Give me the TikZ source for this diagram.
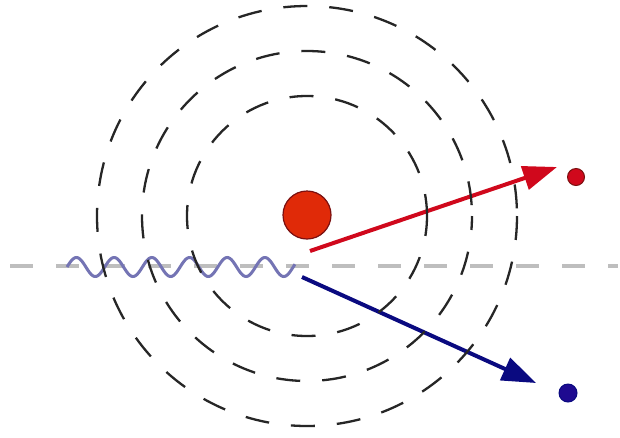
\documentclass[tikz,border=0pt]{standalone}
\usetikzlibrary{arrows.meta}
\definecolor{nucred}{HTML}{E02A08}
\definecolor{nucedge}{HTML}{7A1010}
\definecolor{arrred}{HTML}{D0081C}
\definecolor{arrblue}{HTML}{0A0A80}
\definecolor{dotblue}{HTML}{1E0A90}
\definecolor{wavecol}{HTML}{7474B4}
\definecolor{axisgray}{HTML}{BEBEBE}
\tikzset{
  shell/.style={draw=black!85, line width=2.3pt, dash pattern=on 24pt off 22pt},
  axisline/.style={draw=axisgray, line width=3.5pt, dash pattern=on 23pt off 23pt},
  wave/.style={draw=wavecol, line width=3pt},
  ray/.style={line width=4pt},
}
\begin{document}
\begin{tikzpicture}[x=1pt,y=-1pt]
\useasboundingbox (0,0) rectangle (620,437);
\fill[white] (0,0) rectangle (620,437);
% axis line
\coordinate (axL) at (10,266);
\coordinate (axR) at (618,266);
\draw[axisline] (axL) -- (axR);
% photon wave
\draw[wave] plot[domain=0:6.05, samples=240, smooth] ({67+\x*37.7}, {267 - 9.5*sin(\x*360)});
% nucleus
\node[circle, fill=nucred, draw=nucedge, line width=1.2pt, minimum size=48pt, inner sep=0pt] (nuc) at (307,215) {};
% outgoing particles
\node[circle, fill=arrred, draw=nucedge, line width=1pt, minimum size=17pt, inner sep=0pt] (rdot) at (576,177) {};
\node[circle, fill=dotblue, draw=arrblue, line width=1pt, minimum size=18pt, inner sep=0pt] (bdot) at (568,393) {};
\coordinate (rs) at (310,251);
\coordinate (rt) at (557,167);
\coordinate (bs) at (302,277);
\coordinate (bt) at (536,383);
\draw[ray, draw=arrred, -{Triangle[length=34pt,width=24pt,fill=arrred]}] (rs) -- (rt);
\draw[ray, draw=arrblue, -{Triangle[length=34pt,width=24pt,fill=arrblue]}] (bs) -- (bt);
% shells
\coordinate (c) at (307,216);
\draw[shell] (c) circle[radius=210];
\draw[shell, dash phase=10pt] (c) circle[radius=165];
\draw[shell, dash phase=4pt] (c) circle[radius=120];
\end{tikzpicture}
\end{document}
